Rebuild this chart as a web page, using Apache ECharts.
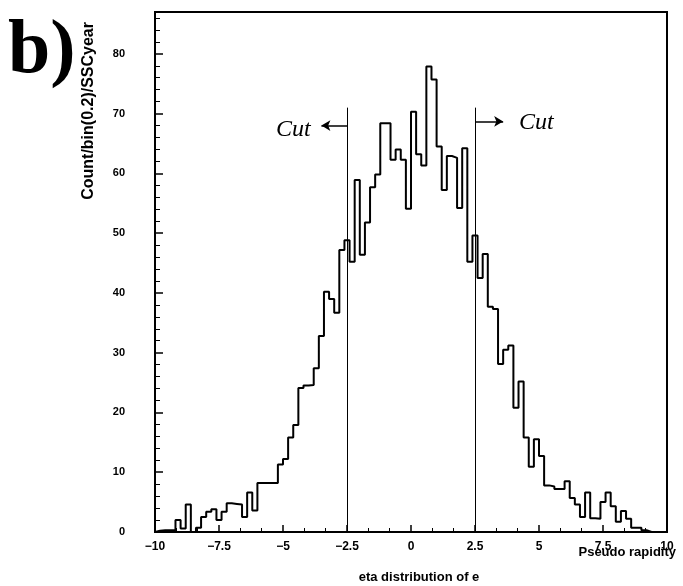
<!DOCTYPE html>
<html><head><meta charset="utf-8">
<script src="https://cdn.jsdelivr.net/npm/echarts@6/dist/echarts.min.js"></script>
<style>html,body{margin:0;padding:0;background:#fff}#c{width:683px;height:586px}</style>
</head><body><div id="c"></div>
<script>
// ---- data ----
const binLow = -10;
const binWidth = 0.2;
const counts = [
  0.2, 0.3, 0.3, 0.3, 2.0, 0.6, 4.6, 0.0, 0.7, 2.5,
  3.4, 3.8, 2.0, 3.4, 4.8, 4.7, 4.6, 2.5, 6.6, 3.6,
  8.2, 8.2, 8.2, 8.2, 11.3, 12.2, 15.8, 17.9, 24.1, 24.5,
  24.6, 27.4, 32.8, 40.2, 39.0, 36.7, 47.2, 48.8, 45.2, 58.9,
  46.4, 51.8, 57.7, 59.8, 68.4, 68.4, 62.3, 64.0, 62.3, 54.1,
  70.3, 63.2, 61.3, 77.9, 75.7, 64.5, 57.2, 62.9, 62.6, 54.2,
  64.2, 45.2, 49.6, 42.5, 46.5, 37.7, 37.3, 28.1, 30.5, 31.2,
  20.8, 25.2, 15.8, 10.9, 15.5, 12.7, 7.8, 7.6, 7.2, 7.2,
  8.5, 5.7, 4.6, 2.5, 6.6, 2.3, 2.2, 5.0, 6.6, 4.3,
  1.7, 3.5, 2.2, 0.7, 0.7, 0.3, 0.0, 0.0, 0.0, 0.0
];
const xTickLabels = [-10, -7.5, -5, -2.5, 0, 2.5, 5, 7.5, 10];
const yTickLabels = [0, 10, 20, 30, 40, 50, 60, 70, 80];
const cutPositions = [-2.5, 2.5];
const cutLineTop = 71;
const arrowLevel = [68, 68.7];
const arrowTips = [-3.5, 3.6];
const cutTextPos = [[-4.6, 67.3], [4.9, 68.5]];
const xTitle = 'Pseudo rapidity';
const yTitle = 'Count/bin(0.2)/SSCyear';
const bottomTitle = 'eta distribution of e';
const panelTag = 'b)';

// ---- build step data from bins ----
const stepData = [[binLow, 0]];
counts.forEach((c, i) => stepData.push([+(binLow + i * binWidth).toFixed(2), c]));
stepData.push([+(binLow + counts.length * binWidth).toFixed(2), 0]);

const fmtMinus = v => (v < 0 ? '\u2212' + Math.abs(v) : String(v));

const markLines = [];
cutPositions.forEach((x, k) => {
  markLines.push([{coord: [x, 0], symbol: 'none'}, {coord: [x, cutLineTop], symbol: 'none'}]);
  markLines.push([{coord: [x, arrowLevel[k]], symbol: 'none', lineStyle: {width: 1.5}},
                  {coord: [arrowTips[k], arrowLevel[k]], symbol: 'arrow', symbolSize: [8, 9]}]);
});

const chart = echarts.init(document.getElementById('c'), null, {renderer: 'canvas'});
const labelFont = {color: '#000', fontFamily: 'Liberation Sans', fontWeight: 'bold', fontSize: 11};

chart.setOption({
  animation: false,
  backgroundColor: '#fff',
  grid: {left: 155, right: 16, top: 12, bottom: 54, show: true, borderColor: '#000', borderWidth: 2},
  xAxis: {
    type: 'value', min: -10, max: 10, interval: 2.5,
    axisLine: {show: true, onZero: false, lineStyle: {color: '#000', width: 2}},
    axisTick: {show: true, inside: true, length: 7, lineStyle: {color: '#000', width: 1.5}},
    minorTick: {show: true, splitNumber: 3, length: 4, lineStyle: {color: '#000', width: 1}},
    splitLine: {show: false},
    axisLabel: Object.assign({}, labelFont, {fontSize: 12, margin: 9, formatter: v => xTickLabels.includes(v) ? fmtMinus(v) : ''})
  },
  yAxis: {
    type: 'value', min: 0, max: 87, interval: 10,
    axisLine: {show: true, onZero: false, lineStyle: {color: '#000', width: 2}},
    axisTick: {show: true, inside: true, length: 8, lineStyle: {color: '#000', width: 1.5}},
    minorTick: {show: true, splitNumber: 5, length: 5, lineStyle: {color: '#000', width: 1}},
    splitLine: {show: false},
    axisLabel: Object.assign({}, labelFont, {margin: 30, formatter: v => yTickLabels.includes(v) ? String(v) : ''})
  },
  series: [{
    type: 'line',
    data: stepData,
    step: 'end',
    symbol: 'none',
    lineStyle: {color: '#000', width: 2},
    markLine: {
      silent: true,
      symbol: 'none',
      label: {show: false},
      lineStyle: {color: '#000', width: 1, type: 'solid'},
      data: markLines
    },
    markPoint: {
      silent: true,
      data: cutTextPos.map(p => ({
        coord: p, symbol: 'circle', symbolSize: 0,
        label: {show: true, position: 'inside', formatter: 'Cut', color: '#000',
                fontFamily: 'Liberation Serif', fontStyle: 'italic', fontSize: 24}
      }))
    }
  }],
  graphic: [
    {type: 'text', left: 8, top: 14,
     style: {text: panelTag, font: 'bold 76px "Liberation Serif"', fill: '#000'}},
    {type: 'text', x: 89, y: 22, rotation: Math.PI / 2,
     style: {text: yTitle, font: 'bold 16px "Liberation Sans"', fill: '#000', align: 'right', verticalAlign: 'middle'}},
    {type: 'text', right: 7, top: 546,
     style: {text: xTitle, font: 'bold 13px "Liberation Sans"', fill: '#000'}},
    {type: 'text', x: 419, y: 577,
     style: {text: bottomTitle, font: 'bold 13px "Liberation Sans"', fill: '#000', align: 'center', verticalAlign: 'middle'}}
  ]
});
</script></body></html>
